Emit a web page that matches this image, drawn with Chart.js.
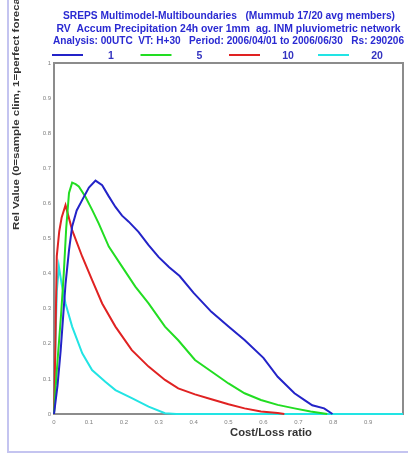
<!DOCTYPE html>
<html>
<head>
<meta charset="utf-8">
<script src="https://cdn.jsdelivr.net/npm/chart.js@4/dist/chart.umd.min.js"></script>
<style>
  html, body { margin: 0; padding: 0; background: #ffffff; }
  #wrap { width: 408px; height: 457px; position: relative; }
</style>
</head>
<body>
<div id="wrap"><canvas id="c" width="408" height="457"></canvas></div>
<script>
// ---- Data ----
const titleLines = [
  "SREPS Multimodel-Multiboundaries   (Mummub 17/20 avg members)",
  "RV  Accum Precipitation 24h over 1mm  ag. INM pluviometric network",
  "Analysis: 00UTC  VT: H+30   Period: 2006/04/01 to 2006/06/30   Rs: 290206"
];
const xAxisTitle = "Cost/Loss ratio";
const yAxisTitle = "Rel Value (0=sample clim, 1=perfect forecast)";
const seriesLabels = ["1", "5", "10", "20"];
const seriesColors = ["#2323c8", "#22dd22", "#e02222", "#22e4e4"];

const costLoss1 = [0, 0.005, 0.01, 0.019, 0.033, 0.043, 0.052, 0.065, 0.081, 0.1, 0.119, 0.138, 0.157, 0.176, 0.195, 0.214, 0.242, 0.271, 0.3, 0.33, 0.36, 0.4, 0.451, 0.5, 0.546, 0.6, 0.641, 0.689, 0.72, 0.74, 0.774, 0.798];
const relValue1 = [0, 0.04, 0.08, 0.18, 0.37, 0.467, 0.534, 0.58, 0.61, 0.645, 0.665, 0.652, 0.62, 0.59, 0.565, 0.548, 0.519, 0.481, 0.447, 0.418, 0.393, 0.345, 0.291, 0.249, 0.211, 0.16, 0.106, 0.059, 0.038, 0.025, 0.016, 0];

const costLoss5 = [0, 0.005, 0.01, 0.02, 0.028, 0.035, 0.043, 0.052, 0.062, 0.071, 0.09, 0.11, 0.128, 0.157, 0.195, 0.233, 0.271, 0.318, 0.356, 0.404, 0.451, 0.5, 0.546, 0.593, 0.641, 0.689, 0.735, 0.783];
const relValue5 = [0, 0.08, 0.15, 0.28, 0.4, 0.53, 0.63, 0.659, 0.655, 0.648, 0.619, 0.58, 0.543, 0.477, 0.42, 0.363, 0.315, 0.249, 0.21, 0.154, 0.121, 0.087, 0.059, 0.04, 0.026, 0.016, 0.007, 0];

const costLoss10 = [0, 0.004, 0.008, 0.015, 0.022, 0.033, 0.052, 0.081, 0.109, 0.138, 0.176, 0.223, 0.271, 0.318, 0.356, 0.404, 0.451, 0.5, 0.546, 0.593, 0.641, 0.66];
const relValue10 = [0, 0.2, 0.45, 0.52, 0.56, 0.595, 0.524, 0.448, 0.382, 0.315, 0.249, 0.182, 0.135, 0.097, 0.073, 0.056, 0.042, 0.028, 0.016, 0.007, 0.003, 0];

const costLoss20 = [0, 0.004, 0.008, 0.014, 0.022, 0.033, 0.052, 0.081, 0.109, 0.147, 0.176, 0.223, 0.271, 0.318, 0.35, 1.0];
const relValue20 = [0, 0.2, 0.35, 0.42, 0.37, 0.315, 0.249, 0.173, 0.125, 0.092, 0.068, 0.045, 0.021, 0.002, 0, 0];

const xTickLabels = ["0", "0.1", "0.2", "0.3", "0.4", "0.5", "0.6", "0.7", "0.8", "0.9", ""];
const yTickLabels = ["0", "0.1", "0.2", "0.3", "0.4", "0.5", "0.6", "0.7", "0.8", "0.9", "1"];

// ---- Build datasets ----
const allX = [costLoss1, costLoss5, costLoss10, costLoss20];
const allY = [relValue1, relValue5, relValue10, relValue20];
const datasets = seriesLabels.map((lab, i) => ({
  label: lab,
  data: allX[i].map((x, j) => ({ x: x, y: allY[i][j] })),
  borderColor: seriesColors[i],
  backgroundColor: seriesColors[i],
  borderWidth: 2,
  pointRadius: 0,
  tension: 0,
  fill: false,
  clip: 4
}));

// draw text stretched horizontally to a target width, centred on cx
function fitText(ctx, text, cx, cy, targetW) {
  const w = ctx.measureText(text).width;
  const k = targetW / w;
  ctx.save();
  ctx.translate(cx, cy);
  ctx.scale(k, 1);
  ctx.textAlign = 'center';
  ctx.fillText(text, 0, 0);
  ctx.restore();
}

const decor = {
  id: 'decor',
  beforeDatasetsDraw(chart) {
    const ctx = chart.ctx, a = chart.chartArea;
    ctx.save();
    ctx.strokeStyle = '#8c8c8c';
    ctx.lineWidth = 2;
    ctx.strokeRect(a.left, a.top, a.right - a.left, a.bottom - a.top);
    ctx.restore();
  },
  afterDraw(chart) {
    const ctx = chart.ctx;
    ctx.save();
    // lavender outer frame (left and bottom)
    ctx.strokeStyle = '#c4c4f0';
    ctx.lineWidth = 2;
    ctx.beginPath();
    ctx.moveTo(8, 0);
    ctx.lineTo(8, 452);
    ctx.lineTo(408, 452);
    ctx.stroke();

    // title lines
    ctx.fillStyle = '#2a2ad2';
    ctx.font = 'bold 10px "Liberation Sans", Arial, sans-serif';
    ctx.textBaseline = 'middle';
    const ty = [16, 29, 41.5];
    const tx = [229, 228.5, 228.5];
    const tw = [332, 344, 351];
    titleLines.forEach((t, i) => fitText(ctx, t, tx[i], ty[i], tw[i]));

    // legend: line then label
    const starts = [52, 140.5, 229, 318];
    chart.data.datasets.forEach((ds, i) => {
      const x0 = starts[i];
      ctx.strokeStyle = ds.borderColor;
      ctx.lineWidth = 2;
      ctx.beginPath();
      ctx.moveTo(x0, 55);
      ctx.lineTo(x0 + 31, 55);
      ctx.stroke();
      ctx.fillStyle = '#3434c0';
      ctx.font = 'bold 10.5px "Liberation Sans", Arial, sans-serif';
      ctx.textAlign = 'center';
      ctx.fillText(ds.label, x0 + 59, 56.5);
    });

    // x-axis title
    ctx.fillStyle = '#333333';
    ctx.font = 'bold 10.5px "Liberation Sans", Arial, sans-serif';
    fitText(ctx, xAxisTitle, 271, 433, 82);

    // y-axis title (rotated)
    ctx.save();
    ctx.translate(16.5, 230);
    ctx.rotate(-Math.PI / 2);
    ctx.fillStyle = '#333333';
    ctx.font = 'bold 9.5px "Liberation Sans", Arial, sans-serif';
    const w = ctx.measureText(yAxisTitle).width;
    ctx.scale(246 / w, 1);
    ctx.textAlign = 'left';
    ctx.fillText(yAxisTitle, 0, 0);
    ctx.restore();
    ctx.restore();
  }
};

new Chart(document.getElementById('c'), {
  type: 'line',
  data: { datasets: datasets },
  plugins: [decor],
  options: {
    responsive: false,
    animation: false,
    devicePixelRatio: 1,
    layout: { padding: { left: 0, top: 63, right: 2, bottom: 0 } },
    plugins: {
      legend: { display: false },
      title: { display: false },
      tooltip: { enabled: false }
    },
    scales: {
      x: {
        type: 'linear',
        min: 0, max: 1,
        grid: { display: false, drawTicks: false },
        border: { display: false },
        afterFit: (s) => { s.height = 43; },
        afterBuildTicks: (s) => { s.ticks = xTickLabels.map((_, i) => ({ value: i / 10 })); },
        ticks: {
          autoSkip: false,
          maxRotation: 0,
          padding: 5,
          color: '#808080',
          font: { size: 6, family: '"Liberation Sans", Arial, sans-serif' },
          callback: (v, i) => xTickLabels[i]
        }
      },
      y: {
        type: 'linear',
        min: 0, max: 1,
        grid: { display: false, drawTicks: false },
        border: { display: false },
        afterFit: (s) => { s.width = 54; },
        afterBuildTicks: (s) => { s.ticks = yTickLabels.map((_, i) => ({ value: i / 10 })); },
        ticks: {
          autoSkip: false,
          padding: 3,
          color: '#808080',
          font: { size: 6, family: '"Liberation Sans", Arial, sans-serif' },
          callback: (v, i) => yTickLabels[i]
        }
      }
    }
  }
});
</script>
</body>
</html>
